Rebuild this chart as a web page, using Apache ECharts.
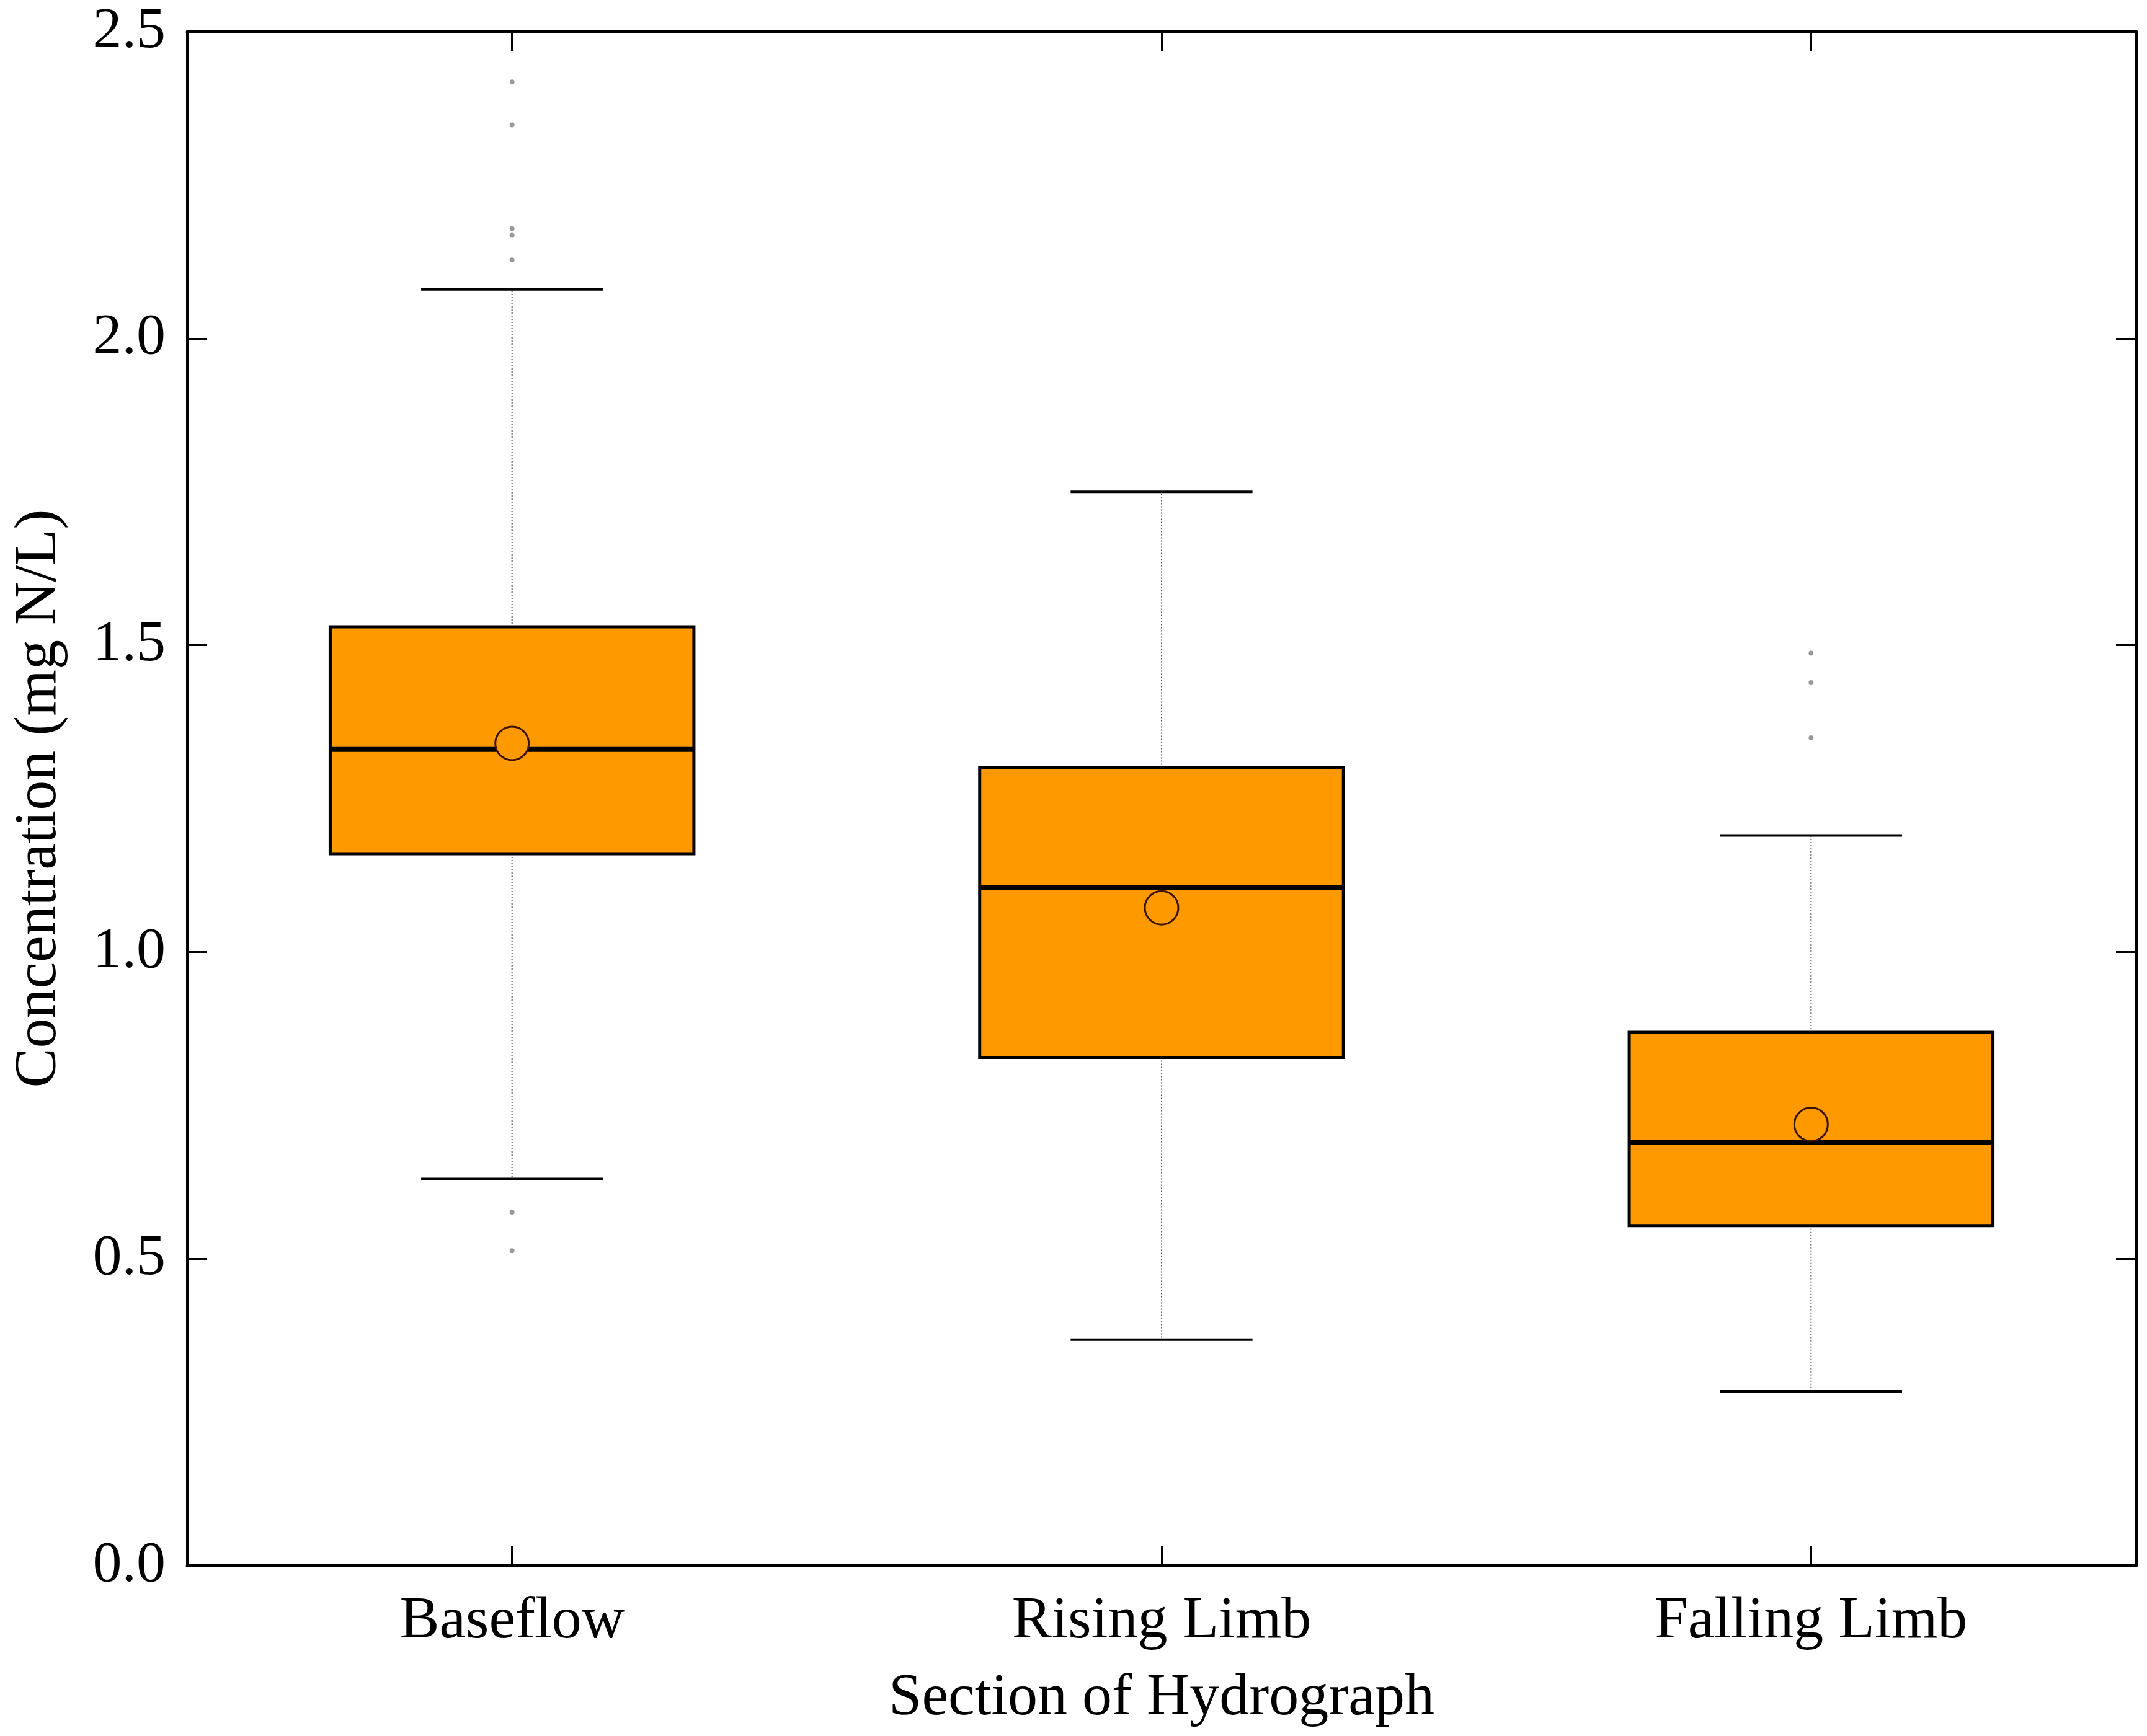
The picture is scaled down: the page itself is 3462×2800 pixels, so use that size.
<!DOCTYPE html>
<html>
<head>
<meta charset="utf-8">
<script src="https://cdn.jsdelivr.net/npm/echarts@6/dist/echarts.min.js"></script>
<style>
html,body{margin:0;padding:0;background:#fff;}
#chart{width:3462px;height:2800px;}
</style>
</head>
<body>
<div id="chart"></div>
<script>
var categories = ['Baseflow', 'Rising Limb', 'Falling Limb'];
var whiskerLow = [0.63, 0.368, 0.284];
var q1 = [1.16, 0.828, 0.554];
var median = [1.33, 1.105, 0.69];
var q3 = [1.53, 1.30, 0.869];
var whiskerHigh = [2.08, 1.75, 1.19];
var means = [1.34, 1.072, 0.719];
var outlierCat = [0, 0, 0, 0, 0, 0, 0, 2, 2, 2];
var outlierVal = [2.418, 2.348, 2.179, 2.168, 2.128, 0.576, 0.513, 1.487, 1.439, 1.349];
var yTicks = [0, 0.5, 1.0, 1.5, 2.0, 2.5];

var FONT = 'Liberation Serif';
var ORANGE = '#FF9900';

var boxData = categories.map(function (c, i) {
  return [i, whiskerLow[i], q1[i], median[i], q3[i], whiskerHigh[i]];
});
var meanData = categories.map(function (c, i) { return [i, means[i]]; });
var outData = outlierVal.map(function (v, i) { return [outlierCat[i], v]; });

function renderBox(params, api) {
  var idx = api.value(0);
  var lo = api.coord([idx, api.value(1)]);
  var b1 = api.coord([idx, api.value(2)]);
  var md = api.coord([idx, api.value(3)]);
  var b3 = api.coord([idx, api.value(4)]);
  var hi = api.coord([idx, api.value(5)]);
  var bw = api.size([1, 0])[0];
  var half = bw * 0.28;
  var capHalf = bw * 0.14;
  var x = lo[0];
  var dash = {stroke: '#555', lineWidth: 2, lineDash: [2, 3]};
  var cap = {stroke: '#000', lineWidth: 4};
  return {
    type: 'group',
    children: [
      {type: 'line', shape: {x1: x, y1: b3[1], x2: x, y2: hi[1]}, style: dash},
      {type: 'line', shape: {x1: x, y1: b1[1], x2: x, y2: lo[1]}, style: dash},
      {type: 'line', shape: {x1: x - capHalf, y1: hi[1], x2: x + capHalf, y2: hi[1]}, style: cap},
      {type: 'line', shape: {x1: x - capHalf, y1: lo[1], x2: x + capHalf, y2: lo[1]}, style: cap},
      {type: 'rect', shape: {x: x - half, y: b3[1], width: half * 2, height: b1[1] - b3[1]},
        style: {fill: ORANGE, stroke: '#000', lineWidth: 5}},
      {type: 'line', shape: {x1: x - half, y1: md[1], x2: x + half, y2: md[1]},
        style: {stroke: '#000', lineWidth: 8}}
    ]
  };
}

var axisLineStyle = {show: true, onZero: false, lineStyle: {color: '#000', width: 5}};
var tickStyle = {show: true, inside: true, length: 32, lineStyle: {color: '#000', width: 3}};

var chart = echarts.init(document.getElementById('chart'), null, {renderer: 'canvas', devicePixelRatio: 1});
chart.setOption({
  animation: false,
  backgroundColor: '#fff',
  grid: {left: 302, right: 18, top: 51, bottom: 275, containLabel: false},
  xAxis: [
    {
      type: 'category', data: categories, position: 'bottom', boundaryGap: true,
      axisLine: axisLineStyle,
      axisTick: Object.assign({alignWithLabel: true, interval: 0}, tickStyle),
      axisLabel: {fontFamily: FONT, fontSize: 96, color: '#000', margin: 43, interval: 0},
      splitLine: {show: false},
      name: 'Section of Hydrograph', nameLocation: 'middle', nameGap: 167,
      nameTextStyle: {fontFamily: FONT, fontSize: 96, color: '#000'}
    },
    {
      type: 'category', data: categories, position: 'top', boundaryGap: true,
      axisLine: axisLineStyle,
      axisTick: Object.assign({alignWithLabel: true, interval: 0}, tickStyle),
      axisLabel: {show: true, interval: 0, fontSize: 10, color: 'rgba(0,0,0,0)',
        formatter: function () { return ' '; }},
      splitLine: {show: false}
    }
  ],
  yAxis: [
    {
      type: 'value', min: 0, max: 2.5, interval: 0.5, position: 'left',
      axisLine: axisLineStyle, axisTick: tickStyle, splitLine: {show: false},
      axisLabel: {fontFamily: FONT, fontSize: 94, color: '#000', margin: 35,
        formatter: function (v) { return v.toFixed(1); }},
      name: 'Concentration (mg N/L)', nameLocation: 'middle', nameGap: 190, nameRotate: 90,
      nameTextStyle: {fontFamily: FONT, fontSize: 96, color: '#000'}
    },
    {
      type: 'value', min: 0, max: 2.5, interval: 0.5, position: 'right',
      axisLine: axisLineStyle, axisTick: tickStyle, splitLine: {show: false},
      axisLabel: {show: false}
    }
  ],
  series: [
    {
      type: 'custom', xAxisIndex: 0, yAxisIndex: 0,
      renderItem: renderBox, data: boxData,
      encode: {x: 0, y: [1, 2, 3, 4, 5]}, z: 2
    },
    {
      type: 'scatter', xAxisIndex: 0, yAxisIndex: 0, data: outData,
      symbol: 'circle', symbolSize: 8,
      itemStyle: {color: '#999', opacity: 1}, z: 3
    },
    {
      type: 'scatter', xAxisIndex: 0, yAxisIndex: 0, data: meanData,
      symbol: 'circle', symbolSize: 54,
      itemStyle: {color: ORANGE, borderColor: '#3b1200', borderWidth: 3, opacity: 1}, z: 4
    }
  ]
});
</script>
</body>
</html>
